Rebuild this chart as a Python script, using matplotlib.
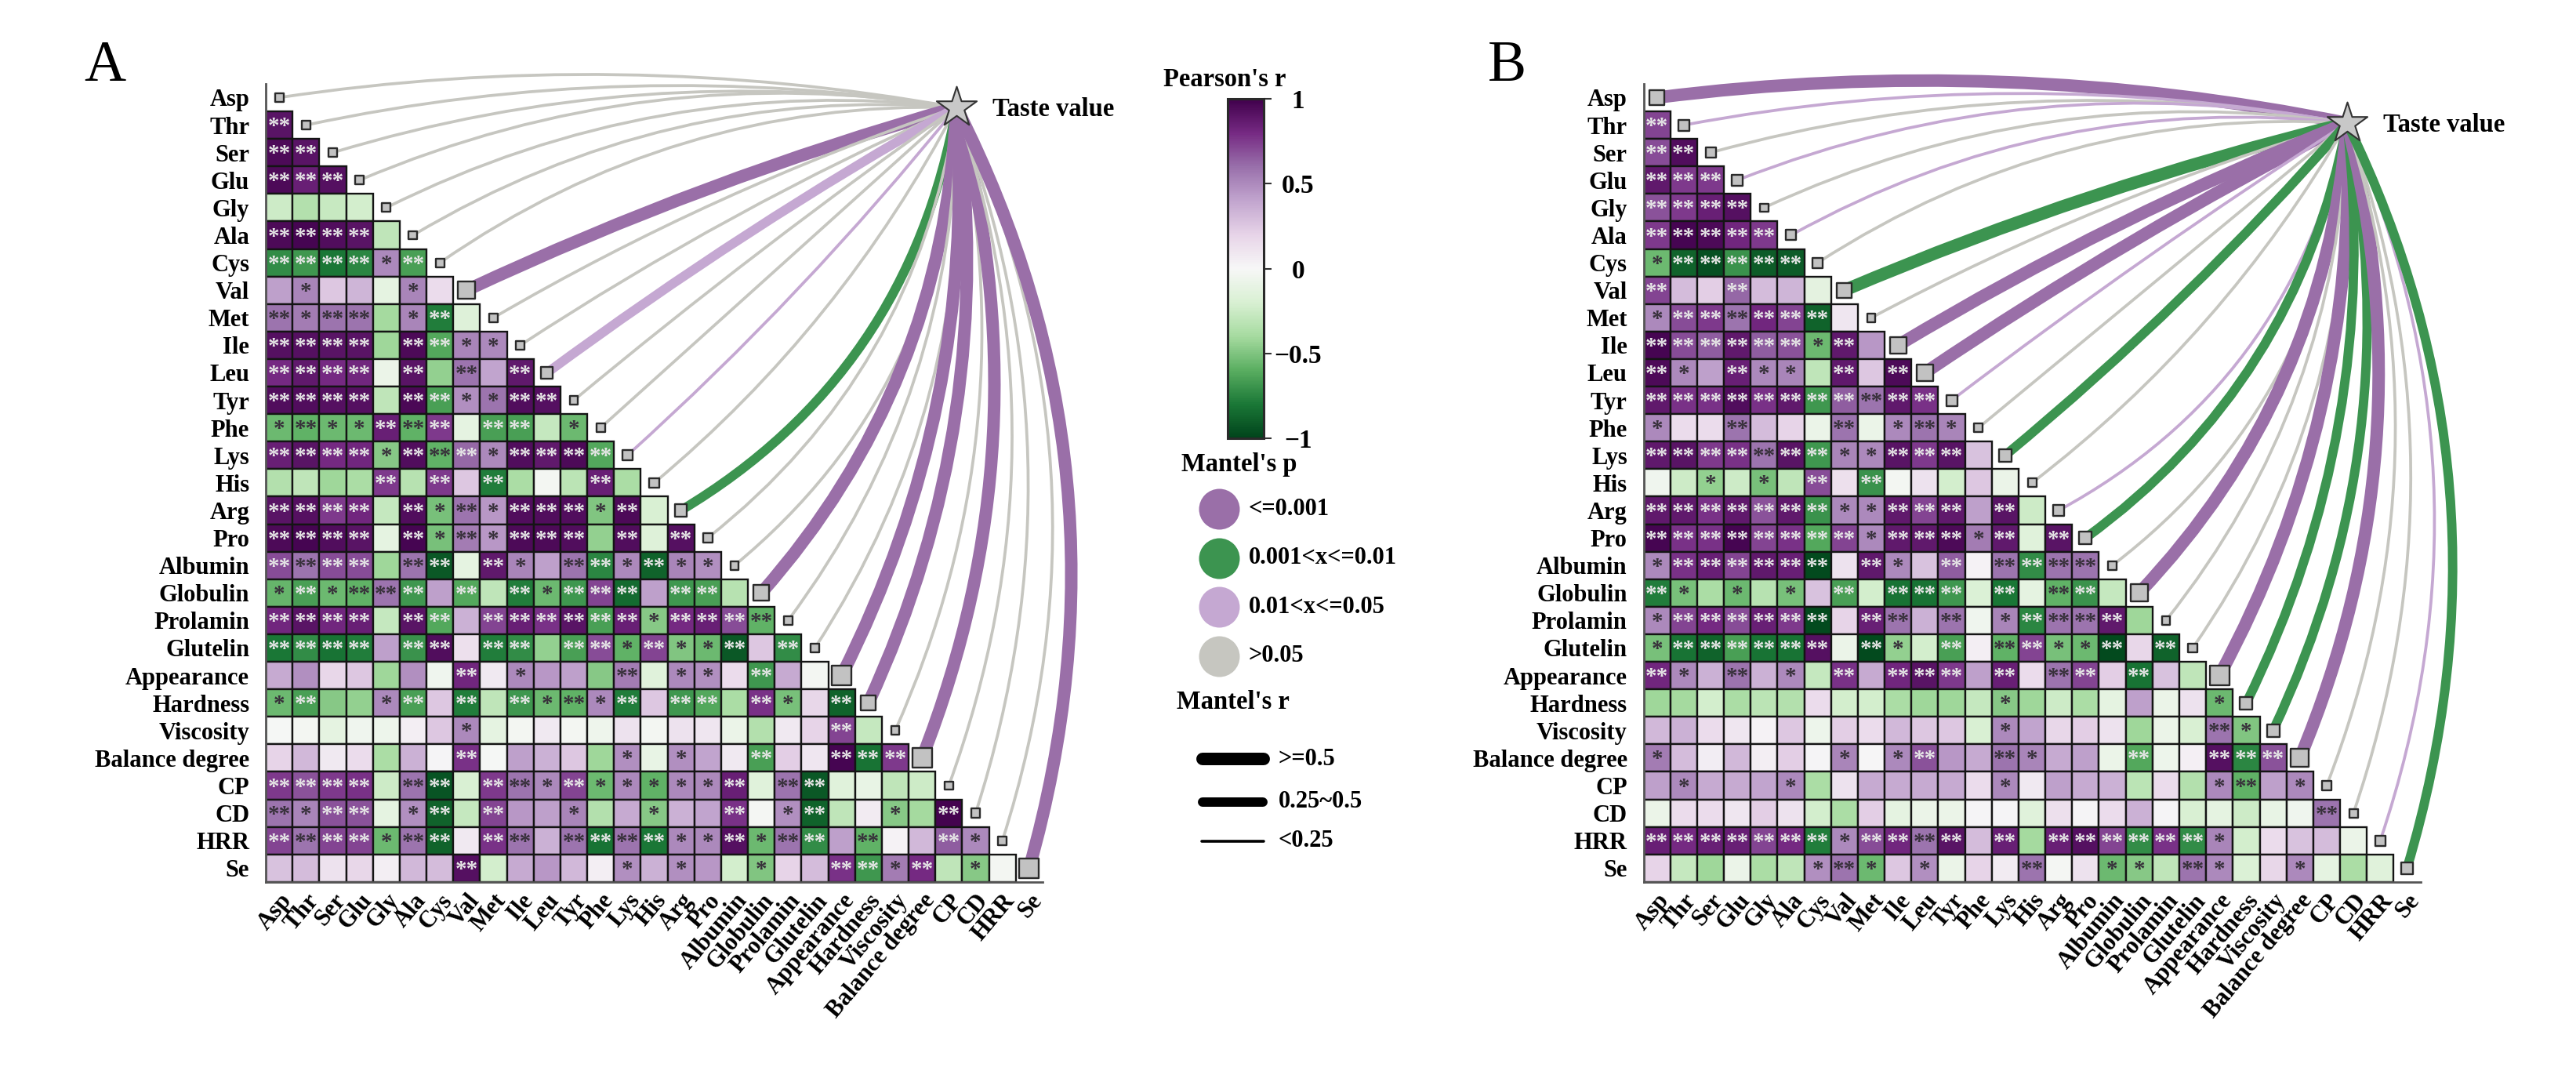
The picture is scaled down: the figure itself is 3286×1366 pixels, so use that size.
# -*- coding: utf-8 -*-
# correlation triangles with Mantel links to taste value, panels A and B

import numpy as np
import matplotlib
matplotlib.use('Agg')
import matplotlib.pyplot as plt
from matplotlib.cm import ScalarMappable
from matplotlib.colors import Normalize
from matplotlib.patches import PathPatch, Rectangle
from matplotlib.path import Path

plt.rcParams['font.family'] = ['Liberation Serif', 'DejaVu Serif']
plt.rcParams['font.weight'] = 'bold'

# data
names = ["Asp", "Thr", "Ser", "Glu", "Gly", "Ala", "Cys", "Val", "Met", "Ile", "Leu", "Tyr", "Phe", "Lys", "His",
         "Arg", "Pro", "Albumin", "Globulin", "Prolamin", "Glutelin", "Appearance", "Hardness", "Viscosity",
         "Balance degree", "CP", "CD", "HRR", "Se"]

r_a = [
    [.9],
    [.95, .9],
    [.95, .85, .92],
    [-.25, -.35, -.27, -.22],
    [.95, .97, .93, .9, -.3],
    [-.72, -.68, -.8, -.75, .5, -.65],
    [.42, .52, .25, .33, -.12, .52, .15],
    [.58, .55, .58, .58, -.4, .52, -.78, -.17],
    [.92, .92, .9, .9, -.42, .95, -.62, .52, .5],
    [.8, .88, .8, .82, -.08, .9, -.45, .58, .4, .88],
    [.93, .93, .92, .92, -.3, .96, -.65, .48, .58, .93, .92],
    [-.55, -.58, -.55, -.55, .85, -.58, .75, -.12, -.65, -.65, -.28, -.55],
    [.85, .9, .8, .82, -.48, .93, -.58, .62, .5, .93, .88, .95, -.62],
    [-.35, -.3, -.42, -.38, .75, -.33, .75, .25, -.78, -.38, -.03, -.32, .85, -.38],
    [.9, .92, .75, .82, -.28, .93, -.52, .58, .45, .93, .93, .93, -.5, .95, -.2],
    [.95, .97, .93, .9, -.12, .97, -.52, .55, .45, .95, .95, .93, -.45, .93, -.17, .92],
    [.7, .58, .7, .7, -.42, .58, -.92, -.12, .88, .52, .42, .58, -.75, .5, -.88, .52, .48],
    [-.57, -.65, -.55, -.58, .58, -.68, .42, -.62, -.3, -.78, -.55, -.68, .72, -.85, .42, -.68, -.65, -.33],
    [.82, .9, .82, .85, -.28, .9, -.62, .35, .72, .85, .78, .9, -.65, .85, -.48, .8, .85, .7, -.58],
    [-.8, -.72, -.82, -.78, .42, -.7, .93, .13, -.78, -.72, -.45, -.65, .7, -.58, .72, -.5, -.55, -.92, .25, -.72],
    [.38, .48, .18, .25, -.42, .48, -.05, .82, .08, .5, .45, .42, -.48, .55, -.15, .5, .48, .15, -.68, .38, -.03],
    [-.55, -.65, -.48, -.45, .5, -.65, .25, -.78, -.3, -.68, -.55, -.58, .5, -.78, .25, -.68, -.62, -.38, .78, -.52,
     .18, -.88],
    [-.01, -.03, -.12, -.05, -.07, .05, .25, .5, -.12, -.03, .08, -.03, -.06, .12, -.03, .12, .1, -.08, -.35, .08,
     .2, .72, -.28],
    [.2, .32, .08, .15, -.38, .35, .02, .78, -.01, .42, .35, .25, -.42, .48, -.1, .48, .4, .08, -.65, .22, .1, .97,
     -.82, .75],
    [.75, .68, .75, .78, -.25, .58, -.93, -.2, .75, .58, .5, .72, -.55, .5, -.58, .5, .5, .85, -.15, .58, -.92, -.15,
     -.1, -.3, -.25],
    [.58, .52, .68, .68, -.12, .48, -.88, -.28, .72, .45, .42, .52, -.35, .38, -.48, .35, .4, .78, -.02, .48, -.88,
     -.3, .07, -.48, -.4, .98],
    [.72, .58, .72, .72, -.55, .58, -.88, .08, .78, .58, .35, .58, -.82, .58, -.8, .5, .5, .92, -.55, .58, -.72, .42,
     -.58, .03, .32, .65, .5],
    [.28, .3, .12, .18, .05, .32, .3, .92, -.22, .38, .45, .32, .05, .48, .35, .48, .45, -.22, -.5, .2, .3, .78, -.68,
     .55, .8, -.3, -.48, -.03],
]
stars_a = ["2", "22", "222", "0000", "22220", "222212", "0100010", "21220120", "222202211", "2222020202",
           "22220221122", "121122202201", "2222122212222", "00002020200020", "222202121222120",
           "2222021212220202", "22220220210221211", "121222020212220220", "2222022022222212222",
           "22220220220221211202", "000000020100020110200", "1200120202121202202102",
           "00000001000000000000020", "000000020000010100200222", "2222022022121111120220000",
           "21220120200100100201200102", "222212202202222112122020021", "0000000200000101001002212010"]

r_b = [
    [.72],
    [.7, .93],
    [.88, .75, .75],
    [.68, .75, .85, .92],
    [.75, .97, .95, .82, .75],
    [-.55, -.88, -.95, -.7, -.9, -.9],
    [.72, .3, .22, .62, .3, .33, -.13],
    [.5, .7, .75, .58, .82, .72, -.88, .1],
    [.97, .7, .65, .88, .65, .68, -.55, .88, .45],
    [.95, .5, .42, .85, .5, .52, -.3, .88, .25, .95],
    [.88, .78, .78, .93, .78, .88, -.68, .65, .58, .88, .78],
    [.5, .15, .15, .58, .3, .2, -.08, .58, -.08, .5, .58, .52],
    [.88, .9, .75, .78, .58, .9, -.68, .52, .5, .9, .75, .9, .28],
    [-.05, -.25, -.45, -.25, -.52, -.3, .7, .13, -.7, -.03, .12, -.22, .25, -.08],
    [.88, .88, .78, .88, .68, .88, -.7, .5, .5, .88, .72, .88, .42, .9, -.25],
    [.97, .78, .78, .97, .72, .78, -.62, .72, .5, .88, .88, .95, .55, .88, -.15, .9],
    [.5, .78, .85, .72, .88, .85, -.97, .12, .88, .5, .28, .65, .03, .58, -.72, .58, .58],
    [-.78, -.52, -.38, -.55, -.33, -.52, .28, -.65, -.22, -.82, -.82, -.68, -.18, -.8, -.12, -.58, -.7, -.28],
    [.5, .72, .8, .7, .85, .75, -.97, .2, .85, .58, .35, .58, -.05, .52, -.75, .58, .58, .88, -.42],
    [-.52, -.82, -.88, -.65, -.82, -.82, .92, -.08, -.97, -.45, -.22, -.65, .05, -.58, .72, -.52, -.55, -.97, .18,
     -.88],
    [.82, .5, .35, .58, .35, .5, -.28, .78, .38, .82, .9, .75, .42, .85, .15, .58, .72, .22, -.82, .28, -.3],
    [-.42, -.4, -.22, -.38, -.32, -.35, .15, -.22, -.22, -.38, -.42, -.42, -.28, -.48, -.42, -.25, -.38, -.12, .42,
     -.08, .12, -.55],
    [.32, .35, .15, .1, .03, .25, -.07, .22, .15, .32, .25, .25, -.2, .5, .4, .18, .22, .12, -.42, -.08, -.2, .58,
     -.5],
    [.55, .3, .06, .32, .05, .22, .02, .52, .01, .5, .68, .45, .38, .58, .52, .38, .42, -.08, -.62, -.07, .04, .92,
     -.75, .68],
    [.42, .5, .38, .38, .4, .5, -.38, .12, .38, .38, .38, .38, .15, .5, .08, .42, .38, .35, -.32, .15, -.35, .5, -.58,
     .42, .5],
    [-.08, .15, .15, .1, .22, .12, -.22, -.38, .22, -.12, -.08, -.08, .02, .02, -.15, .13, .02, .15, .35, .02, -.2,
     -.12, -.25, -.1, -.05, .58],
    [.85, .8, .85, .85, .72, .8, -.78, .5, .7, .82, .58, .9, .3, .85, -.4, .85, .92, .72, -.72, .78, -.72, .52, -.22,
     .15, .28, .3, -.08],
    [.2, -.28, -.42, -.08, -.38, -.3, .48, .58, -.55, .25, .48, -.08, .2, .07, .58, -.02, .12, -.55, -.48, -.3, .58,
     .5, -.18, .18, .5, -.12, -.38, -.15],
]
stars_b = ["2", "22", "222", "2222", "22222", "122222", "2002000", "12222220", "222222120", "2102110202",
           "22222222222", "100200020121", "2222222112220", "00101020200000", "222222211222020",
           "2222222212221202", "12222220210202222", "210101020222020220", "1222222022020122220",
           "12222220210202211202", "210201020222020220200", "0000000000000100000001",
           "00000000000001000000021", "100000010120021000200222", "0100010000000100000001201",
           "00000000000000000000000002", "222222212222020222222100000", "0000001210100020011021001000"]

# Mantel's r per row, Mantel's p class per row (0 <=0.001, 1 <=0.01, 2 <=0.05, 3 >0.05)
mantel_r_a = [.03, .03, .03, .03, .03, .03, .03, .4, .03, .03, .17, .03, .03, .1, .07, .17, .06, .03, .33, .03, .03,
              .5, .3, .03, .5, .03, .06, .03, .5]
mantel_p_a = [3, 3, 3, 3, 3, 3, 3, 0, 3, 3, 2, 3, 3, 2, 3, 1, 3, 3, 0, 3, 3, 0, 0, 3, 0, 3, 3, 3, 0]
mantel_r_b = [.3, .13, .1, .13, .01, .1, .1, .3, .03, .37, .37, .13, .03, .2, .03, .13, .2, .03, .4, .01, .06, .5, .2,
              .2, .43, .06, .03, .1, .15]
mantel_p_b = [0, 2, 3, 2, 3, 2, 3, 1, 3, 0, 0, 2, 3, 1, 3, 2, 1, 3, 0, 3, 3, 0, 1, 1, 0, 3, 3, 2, 1]

# styles
W, H = 3286, 1366
dpi = 100
cell_w, cell_h = 34.17, 35.1
link_colors = ['#9a6fa8', '#3c9450', '#c5a8d2', '#c6c6c0']
bend = [.08, .09, .11, .14, .145, .155, .16, .04, .05, .04, .03, .02, 0, -.04, -.1, -.23, -.2, -.23, -.18, -.17,
        -.17, -.14, -.15, -.17, -.17, -.18, -.18, -.2, -.2]
cmap = plt.get_cmap('PRGn_r')
norm = Normalize(-1, 1)


def link_width(r):
    if r >= .3:
        return 11.5
    if r >= .15:
        return 8.6
    return 2.7


def panel(left, star_xy, rows, stars, mantel_r, mantel_p):
    n = len(names)
    ax = fig.add_axes([left / W, 1 - (106.9 + n * cell_h) / H, n * cell_w / W, n * cell_h / H])
    ax.set_xlim(0, n)
    ax.set_ylim(n, 0)

    # tiles and significance marks
    for i, row in enumerate(rows):
        for j, v in enumerate(row):
            ax.add_patch(Rectangle((j, i + 1), 1, 1, fc=cmap(norm(v)), ec='#141414', lw=1.7, zorder=1))
            c = int(stars[i][j])
            if c > 0:
                ax.text(j + .5, i + 1.56, '*' * c, ha='center', va='center', fontsize=21, zorder=2,
                        color='#e6e6e6' if abs(v) >= .6 else '#37303a')

    # links to the star
    sx, sy = (star_xy[0] - left) / cell_w, (star_xy[1] - 106.9) / cell_h
    for i in range(n):
        x0, y0 = i + .5, i + .5
        dx, dy = sx - x0, sy - y0
        ctrl = (x0 + dx / 2 + bend[i] * dy, y0 + dy / 2 - bend[i] * dx)
        path = Path([(x0, y0), ctrl, (sx, sy)], [Path.MOVETO, Path.CURVE3, Path.CURVE3])
        ax.add_patch(PathPatch(path, fc='none', ec=link_colors[mantel_p[i]], lw=link_width(mantel_r[i]),
                               capstyle='butt', clip_on=False, zorder=3))

    # node squares and star
    sizes = [(10 + 30 * r) * 72 / dpi for r in mantel_r]
    ax.scatter(np.arange(n) + .5, np.arange(n) + .5, s=np.square(sizes), marker='s', c='#c2c2c2', edgecolors='#2a2a2a',
               linewidths=1.7, clip_on=False, zorder=4)
    ax.scatter([sx], [sy], s=1500, marker='*', c='#c8c8c8', edgecolors='#333333', linewidths=1.5, clip_on=False,
               zorder=5)
    ax.text(sx + 46 / cell_w, sy + 3 / cell_h, 'Taste value', fontsize=23.5, ha='left', va='center', zorder=5)

    ax.set_xticks(np.arange(n) + .5)
    ax.set_yticks(np.arange(n) + .5)
    ax.set_xticklabels(names, fontsize=22, rotation=50, ha='right', va='top', rotation_mode='anchor')
    ax.set_yticklabels(names, fontsize=22)
    ax.tick_params(axis='both', length=0)
    ax.tick_params(axis='y', pad=15)
    ax.tick_params(axis='x', pad=7)
    for side in ['top', 'right']:
        ax.spines[side].set_visible(False)
    for side in ['left', 'bottom']:
        ax.spines[side].set_color('#555555')
        ax.spines[side].set_linewidth(2)


fig = plt.figure(figsize=(W / dpi, H / dpi), dpi=dpi, facecolor='white')
panel(339, (1220, 137), r_a, stars_a, mantel_r_a, mantel_p_a)
panel(2096.6, (2994, 157), r_b, stars_b, mantel_r_b, mantel_p_b)

# colour bar
cax = fig.add_axes([1566 / W, 1 - 559 / H, 46 / W, 433 / H])
cbar = fig.colorbar(ScalarMappable(norm, cmap), cax=cax)
cbar.set_ticks([-1, -.5, 0, .5, 1])
cbar.set_ticklabels(['\u22121', '\u22120.5', '0', '0.5', '1'], fontsize=24, ha='center')
cbar.ax.tick_params(length=7.2, width=1.5, color='#333333', pad=24.5)
cbar.outline.set_linewidth(2.2)
cbar.outline.set_edgecolor('#2a2a2a')

# legends drawn on a pixel-sized overlay
leg = fig.add_axes([0, 0, 1, 1], facecolor='none')
leg.set_xlim(0, W)
leg.set_ylim(H, 0)
leg.axis('off')
leg.text(134, 85, 'A', fontsize=53, weight='normal', ha='center', va='center')
leg.text(1922, 85, 'B', fontsize=53, weight='normal', ha='center', va='center')
leg.text(1562, 101, "Pearson's r", fontsize=23.5, ha='center', va='center')
leg.text(1581, 592, "Mantel's p", fontsize=23.5, ha='center', va='center')
leg.text(1573, 896, "Mantel's r", fontsize=23.5, ha='center', va='center')
p_labels = ['<=0.001', '0.001<x<=0.01', '0.01<x<=0.05', '>0.05']
for k, lab in enumerate(p_labels):
    y = 649.4 + k * 62.5
    leg.scatter([1555], [y], s=(52 * 72 / dpi) ** 2, c=link_colors[k], linewidths=0)
    leg.text(1593, y, lab, fontsize=22, ha='left', va='center')
r_labels = ['>=0.5', '0.25~0.5', '<0.25']
for lab, y, lw, x0, x1 in zip(r_labels, [968, 1023, 1073], [11.5, 8.6, 2.6], [1534, 1534, 1533], [1612, 1611, 1612]):
    leg.plot([x0, x1], [y, y], color='black', lw=lw, solid_capstyle='round')
    leg.text(1631, y, lab, fontsize=22, ha='left', va='center')

fig.savefig('out.png', dpi=dpi)
